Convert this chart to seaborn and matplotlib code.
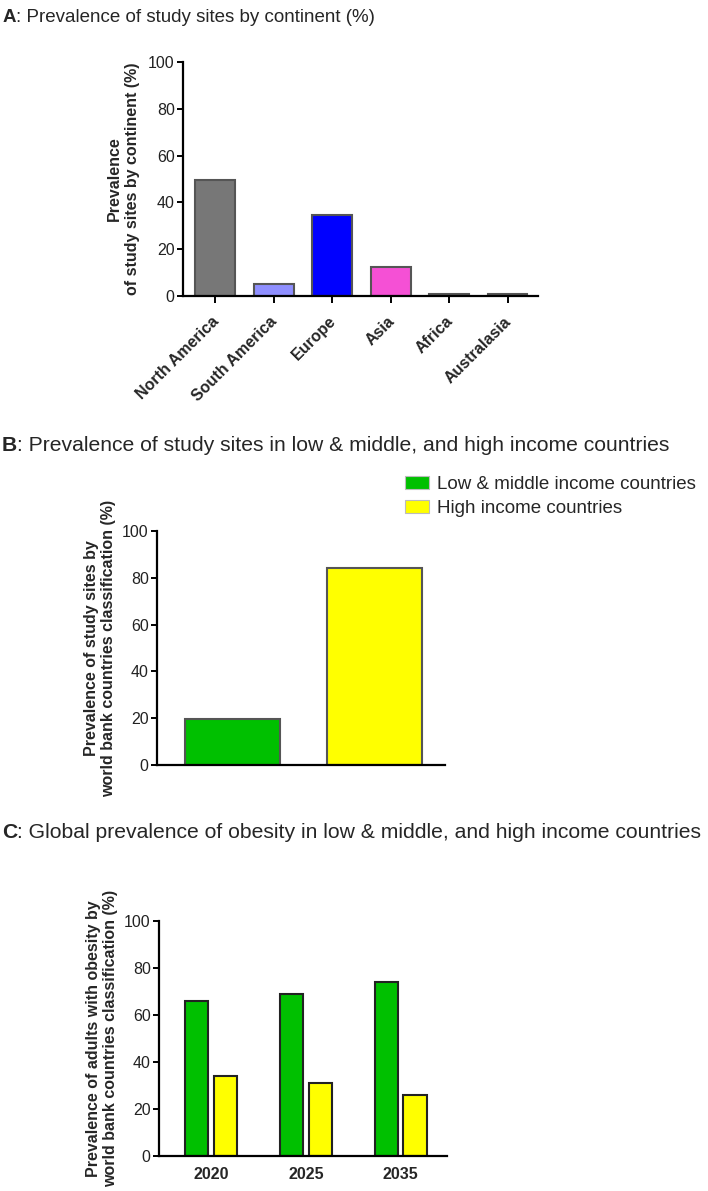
import numpy as np
import pandas as pd
import matplotlib
matplotlib.use("Agg")
import matplotlib.pyplot as plt
import matplotlib.transforms as mtransforms
import seaborn as sns
from matplotlib.patches import Patch

# Panel A data
continents = ["North America", "South America", "Europe", "Asia", "Africa", "Australasia"]
continent_pct = [49.5, 5, 34.5, 12.5, 1, 1]
continent_colors = ["#777777", "#8F8FFF", "#0000FF", "#F550D5", "#8B4513", "#8B1A1A"]

# Panel B data
income_groups = ["Low & middle income countries", "High income countries"]
site_pct = [19.5, 84]
income_colors = ["#00C000", "#FFFF00"]

# Panel C data
years = ["2020", "2025", "2035"]
obesity_lmic = [66, 69, 74]
obesity_hic = [34, 31, 26]

sns.set_theme(style="ticks")
plt.rcParams["font.family"] = ["Liberation Sans", "DejaVu Sans"]
EDGE = "#555555"

fig = plt.figure(figsize=(7.08, 11.91), dpi=100)
axA = fig.add_axes([0.2585, 0.7515, 0.5014, 0.1965])
axB = fig.add_axes([0.2218, 0.3577, 0.4068, 0.1965])
axC = fig.add_axes([0.2246, 0.0294, 0.4068, 0.1973])


def style_axis(ax):
    for s in ["top", "right"]:
        ax.spines[s].set_visible(False)
    for s in ["left", "bottom"]:
        ax.spines[s].set_linewidth(1.6)
        ax.spines[s].set_color("black")
    ax.set_ylim(0, 100)
    ax.set_yticks(np.arange(0, 101, 20))
    ax.tick_params(axis="y", length=4, width=1.4, color="black", pad=2)
    for lbl in ax.get_yticklabels():
        lbl.set_fontsize(11.5)
        lbl.set_color("#222222")


def panel_title(ax, y, letter, text, size):
    t = fig.text(0.003, y, letter, fontsize=size, fontweight="bold", va="center", ha="left")
    ax.annotate(text, xy=(1, 0.5), xycoords=t, va="center", ha="left",
                fontsize=size, annotation_clip=False)


# ---- A ----
dfA = pd.DataFrame({"continent": continents, "pct": continent_pct})
sns.barplot(data=dfA, x="continent", y="pct", hue="continent", palette=continent_colors,
            saturation=1, legend=False, width=0.68, edgecolor=EDGE, linewidth=1.5, ax=axA)
style_axis(axA)
axA.set_xlim(-0.55, 5.52)
axA.tick_params(axis="x", length=5, width=1.4, color="black", pad=2)
axA.set_xticks(range(len(continents)))
axA.set_xticklabels(continents, rotation=45, ha="right", rotation_mode="anchor",
                    fontsize=11.5, fontweight="bold")
shift = mtransforms.ScaledTranslation(-4 / 100, -8 / 100, fig.dpi_scale_trans)
for lbl in axA.get_xticklabels():
    lbl.set_transform(lbl.get_transform() + shift)
axA.set_xlabel("")
axA.set_ylabel("Prevalence\nof study sites by continent (%)", fontsize=11.5,
               fontweight="bold", labelpad=6, linespacing=1.2)
panel_title(axA, 1 - 18 / 1191, "A", ": Prevalence of study sites by continent (%)", 13.5)

# ---- B ----
dfB = pd.DataFrame({"group": income_groups, "pct": site_pct})
sns.barplot(data=dfB, x="group", y="pct", hue="group", palette=income_colors,
            saturation=1, legend=False, width=0.67, edgecolor=EDGE, linewidth=1.5, ax=axB)
style_axis(axB)
axB.set_xlim(-0.53, 1.5)
axB.set_xticks([])
axB.set_xlabel("")
axB.set_ylabel("Prevalence of study sites by\nworld bank countries classification (%)",
               fontsize=11.5, fontweight="bold", labelpad=4, linespacing=1.2)
handles = [Patch(facecolor=c, edgecolor="#bbbbbb", linewidth=0.8) for c in income_colors]
axB.legend(handles, income_groups, loc="upper left", bbox_to_anchor=(0.86, 1.235),
           frameon=False, prop={"size": 13.5}, handlelength=1.3,
           handleheight=0.7, handletextpad=0.4, labelspacing=0.35, borderaxespad=0,
           borderpad=0)
panel_title(axB, 1 - 445 / 1191, "B",
            ": Prevalence of study sites in low & middle, and high income countries", 15.2)

# ---- C ----
dfC = pd.DataFrame({
    "year": years * 2,
    "group": [income_groups[0]] * 3 + [income_groups[1]] * 3,
    "pct": obesity_lmic + obesity_hic,
})
sns.barplot(data=dfC, x="year", y="pct", hue="group", palette=income_colors, saturation=1,
            legend=False, width=0.61, gap=0.2, edgecolor="#222222", linewidth=1.5, ax=axC)
style_axis(axC)
axC.set_xlim(-0.55, 2.49)
axC.tick_params(axis="x", length=0, pad=8)
axC.set_xticks(range(len(years)))
axC.set_xticklabels(years, fontsize=11.5, fontweight="bold")
axC.set_xlabel("")
axC.set_ylabel("Prevalence of adults with obesity by\nworld bank countries classification (%)",
               fontsize=11.5, fontweight="bold", labelpad=4, linespacing=1.2)
panel_title(axC, 1 - 833 / 1191, "C",
            ": Global prevalence of obesity in low & middle, and high income countries", 15.2)

fig.savefig("out.png", dpi=100)
